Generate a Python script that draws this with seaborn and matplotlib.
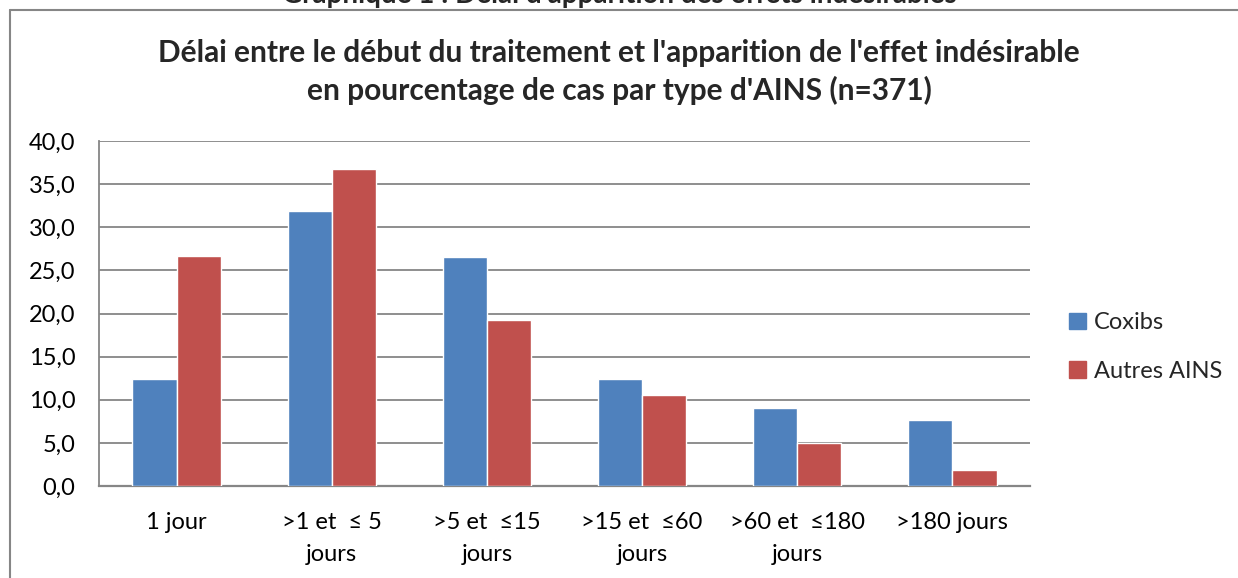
import pandas as pd
import matplotlib
matplotlib.use("Agg")
import matplotlib.pyplot as plt
from matplotlib.ticker import FuncFormatter, MultipleLocator
from matplotlib.lines import Line2D
import seaborn as sns

# Données
categories = ["1 jour", ">1 et  ≤ 5\njours", ">5 et  ≤15\njours",
              ">15 et  ≤60\njours", ">60 et  ≤180\njours", ">180 jours"]
coxibs = [12.4, 31.9, 26.6, 12.4, 9.0, 7.6]
autres_ains = [26.7, 36.7, 19.2, 10.5, 5.0, 1.9]
series = ["Coxibs", "Autres AINS"]
colors = ["#4F81BD", "#C0504D"]

df = pd.DataFrame({
    "delai": categories * 2,
    "pct": coxibs + autres_ains,
    "type": [series[0]] * len(categories) + [series[1]] * len(categories),
})

sns.set_style("white")
plt.rcParams["font.family"] = ["Lato", "DejaVu Sans"]

fig = plt.figure(figsize=(12.38, 5.78), dpi=100)
ax = fig.add_axes([99 / 1238, 1 - 486 / 578, 931 / 1238, 345 / 578])

sns.barplot(data=df, x="delai", y="pct", hue="type", palette=colors,
            width=0.57, saturation=1, ax=ax, legend=False, zorder=3)

ax.set_ylim(0, 40)
ax.set_xlim(-0.5, len(categories) - 0.5)
ax.yaxis.set_major_locator(MultipleLocator(5))
ax.yaxis.set_major_formatter(FuncFormatter(lambda v, p: f"{v:.1f}".replace(".", ",")))
ax.grid(axis="y", color="#868686", linewidth=1.3, zorder=0)
ax.set_xlabel("")
ax.set_ylabel("")
for s in ["top", "right"]:
    ax.spines[s].set_visible(False)
ax.spines["left"].set_color("#868686")
ax.spines["bottom"].set_color("#868686")
ax.spines["left"].set_linewidth(1.3)
ax.spines["bottom"].set_linewidth(1.6)
ax.tick_params(axis="both", length=0, labelsize=17, colors="black")
ax.tick_params(axis="x", pad=19)
for t in ax.get_xticklabels():
    t.set_linespacing(1.6)
ax.tick_params(axis="y", pad=17)

# Titres
fig.text(0.5, 1 - 53 / 578, "Délai entre le début du traitement et l'apparition de l'effet indésirable",
         ha="center", va="center", fontsize=21.5, fontweight="bold")
fig.text(0.5, 1 - 90 / 578, "en pourcentage de cas par type d'AINS (n=371)",
         ha="center", va="center", fontsize=21.5, fontweight="bold")
fig.text(0.5, 1 - (-5) / 578, "Graphique 1 : Délai d'apparition des effets indésirables",
         ha="center", va="center", fontsize=20, fontweight="bold")

# Légende
handles = [plt.Rectangle((0, 0), 1, 1, color=c) for c in colors]
fig.legend(handles, series, loc="center left", bbox_to_anchor=(1048 / 1238, 1 - 347 / 578),
           frameon=False, fontsize=17, handlelength=0.7, handleheight=0.7,
           handletextpad=0.35, labelspacing=1.15)

# Cadre du graphique
fig.add_artist(Line2D([10 / 1238, 1], [1 - 10 / 578, 1 - 10 / 578], color="#868686", lw=1.5))
fig.add_artist(Line2D([10 / 1238, 10 / 1238], [0, 1 - 10 / 578], color="#868686", lw=1.5))

fig.savefig("out.png", dpi=100)
